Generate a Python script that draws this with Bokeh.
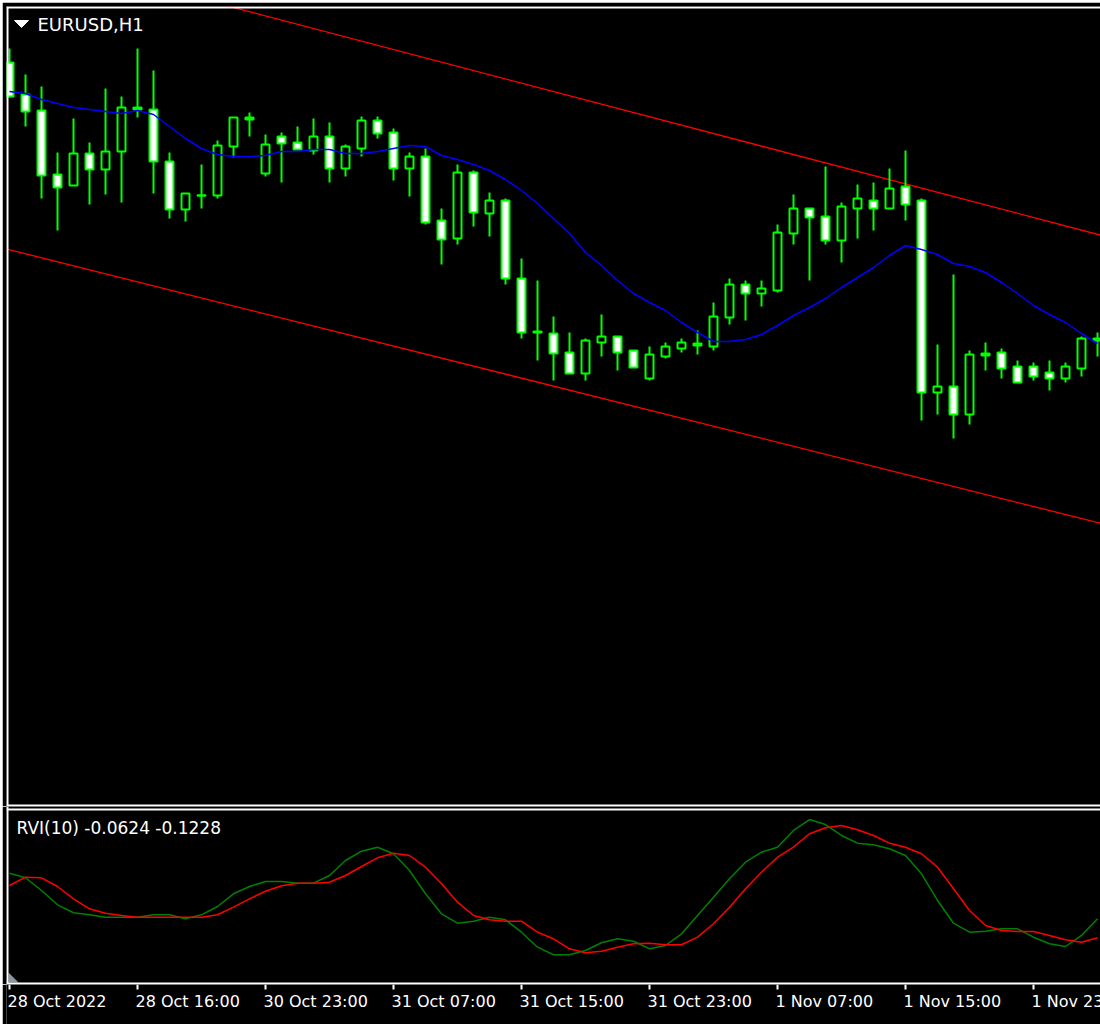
from bokeh.plotting import figure
from bokeh.layouts import column, row
from bokeh.models import Range1d, Span, Label, ColumnDataSource, Spacer
from bokeh.core.properties import value
from bokeh.embed import file_html
from bokeh.resources import INLINE

# ---------------- data ----------------
symbol_text = "EURUSD,H1"
rvi_text = "RVI(10) -0.0624 -0.1228"
tick_bars = [0, 8, 16, 24, 32, 40, 48, 56, 64]
tick_texts = ["28 Oct 2022", "28 Oct 16:00", "30 Oct 23:00", "31 Oct 07:00", "31 Oct 15:00",
              "31 Oct 23:00", "1 Nov 07:00", "1 Nov 15:00", "1 Nov 23:00"]

opens = [1.00152, 1.00024, 0.99960, 0.99704, 0.99660, 0.99788, 0.99724, 0.99796, 0.99964, 0.99964,
         0.99756, 0.99564, 0.99620, 0.99620, 0.99816, 0.99924, 0.99708, 0.99856, 0.99832, 0.99800,
         0.99856, 0.99728, 0.99808, 0.99920, 0.99872, 0.99728, 0.99776, 0.99520, 0.99448, 0.99712,
         0.99548, 0.99600, 0.99288, 0.99072, 0.99068, 0.98992, 0.98908, 0.99032, 0.99056, 0.99000,
         0.98888, 0.98976, 0.99008, 0.99020, 0.99016, 0.99132, 0.99264, 0.99228, 0.99240, 0.99468,
         0.99568, 0.99536, 0.99440, 0.99568, 0.99600, 0.99568, 0.99656, 0.99600, 0.98832, 0.98856,
         0.98744, 0.98980, 0.98992, 0.98936, 0.98936, 0.98912, 0.98888, 0.98928, 0.99040]
highs = [1.00208, 1.00104, 1.00056, 0.99792, 0.99928, 0.99832, 1.00048, 1.00016, 1.00208, 1.00120,
         0.99792, 0.99628, 0.99744, 0.99840, 0.99932, 0.99952, 0.99864, 0.99872, 0.99896, 0.99928,
         0.99912, 0.99824, 0.99936, 0.99936, 0.99888, 0.99792, 0.99808, 0.99568, 0.99744, 0.99720,
         0.99632, 0.99608, 0.99368, 0.99280, 0.99136, 0.99072, 0.99048, 0.99144, 0.99056, 0.99000,
         0.99016, 0.99032, 0.99048, 0.99080, 0.99192, 0.99288, 0.99280, 0.99280, 0.99504, 0.99624,
         0.99568, 0.99736, 0.99592, 0.99664, 0.99672, 0.99728, 0.99800, 0.99608, 0.99024, 0.99304,
         0.99000, 0.99032, 0.99008, 0.98960, 0.98952, 0.98960, 0.98952, 0.99056, 0.99072]
lows = [1.00012, 0.99896, 0.99608, 0.99480, 0.99660, 0.99584, 0.99624, 0.99592, 0.99932, 0.99628,
        0.99528, 0.99516, 0.99568, 0.99608, 0.99772, 0.99856, 0.99696, 0.99672, 0.99804, 0.99784,
        0.99672, 0.99696, 0.99776, 0.99848, 0.99680, 0.99616, 0.99504, 0.99344, 0.99424, 0.99496,
        0.99456, 0.99264, 0.99048, 0.98960, 0.98880, 0.98908, 0.98880, 0.98976, 0.98920, 0.98932,
        0.98880, 0.98968, 0.98992, 0.98984, 0.99000, 0.99104, 0.99120, 0.99176, 0.99232, 0.99424,
        0.99280, 0.99424, 0.99352, 0.99448, 0.99480, 0.99568, 0.99520, 0.98720, 0.98744, 0.98648,
        0.98704, 0.98920, 0.98888, 0.98872, 0.98880, 0.98840, 0.98872, 0.98896, 0.98976]
closes = [1.00016, 0.99956, 0.99700, 0.99652, 0.99788, 0.99724, 0.99796, 0.99972, 0.99972, 0.99756,
          0.99564, 0.99628, 0.99620, 0.99820, 0.99932, 0.99932, 0.99824, 0.99828, 0.99804, 0.99856,
          0.99728, 0.99816, 0.99920, 0.99868, 0.99728, 0.99776, 0.99512, 0.99444, 0.99712, 0.99552,
          0.99600, 0.99288, 0.99072, 0.99076, 0.98988, 0.98908, 0.99040, 0.99056, 0.98992, 0.98932,
          0.98984, 0.99016, 0.99032, 0.99028, 0.99136, 0.99264, 0.99228, 0.99248, 0.99472, 0.99568,
          0.99532, 0.99440, 0.99576, 0.99608, 0.99568, 0.99648, 0.99584, 0.98832, 0.98856, 0.98744,
          0.98984, 0.98988, 0.98928, 0.98872, 0.98896, 0.98888, 0.98936, 0.99048, 0.99048]
ma_values = [1.00036, 1.00028, 1.00004, 0.99988, 0.99972, 0.99964, 0.99956, 0.99948, 0.99960, 0.99944,
             0.99896, 0.99848, 0.99808, 0.99784, 0.99776, 0.99776, 0.99780, 0.99796, 0.99796, 0.99804,
             0.99804, 0.99788, 0.99788, 0.99796, 0.99808, 0.99820, 0.99816, 0.99780, 0.99764, 0.99744,
             0.99720, 0.99684, 0.99640, 0.99588, 0.99528, 0.99468, 0.99392, 0.99340, 0.99280, 0.99228,
             0.99192, 0.99160, 0.99112, 0.99072, 0.99036, 0.99036, 0.99044, 0.99064, 0.99100, 0.99140,
             0.99172, 0.99208, 0.99252, 0.99292, 0.99332, 0.99380, 0.99420, 0.99404, 0.99384, 0.99348,
             0.99336, 0.99312, 0.99272, 0.99228, 0.99180, 0.99144, 0.99112, 0.99068, 0.99028]
rvi_main = [0.0827, 0.0681, 0.0277, -0.0178, -0.0432, -0.0496, -0.0572, -0.0572, -0.0572, -0.0496,
            -0.0496, -0.0623, -0.0496, -0.0232, 0.0172, 0.0404, 0.0563, 0.0563, 0.0509, 0.0509,
            0.0754, 0.1231, 0.1526, 0.1654, 0.1444, 0.0913, 0.0172, -0.0464, -0.0763, -0.0700,
            -0.0572, -0.0655, -0.1049, -0.1526, -0.1768, -0.1768, -0.1631, -0.1386, -0.1259, -0.1336,
            -0.1577, -0.1472, -0.1100, -0.0518, 0.0064, 0.0649, 0.1177, 0.1495, 0.1654, 0.2185,
            0.2534, 0.2375, 0.2026, 0.1781, 0.1730, 0.1603, 0.1390, 0.0808, -0.0041, -0.0763,
            -0.1049, -0.1018, -0.0941, -0.0941, -0.1208, -0.1418, -0.1504, -0.1154, -0.0624]
rvi_signal = [0.0436, 0.0700, 0.0681, 0.0404, 0.0013, -0.0305, -0.0445, -0.0518, -0.0572, -0.0572,
              -0.0572, -0.0572, -0.0572, -0.0496, -0.0254, 0.0013, 0.0254, 0.0426, 0.0509, 0.0509,
              0.0541, 0.0754, 0.1040, 0.1317, 0.1463, 0.1390, 0.1018, 0.0490, -0.0095, -0.0518,
              -0.0655, -0.0700, -0.0700, -0.1049, -0.1259, -0.1577, -0.1704, -0.1654, -0.1526, -0.1418,
              -0.1399, -0.1450, -0.1450, -0.1208, -0.0782, -0.0254, 0.0331, 0.0859, 0.1336, 0.1654,
              0.2080, 0.2271, 0.2344, 0.2207, 0.2026, 0.1781, 0.1654, 0.1444, 0.1018, 0.0331,
              -0.0359, -0.0836, -0.0995, -0.1027, -0.1027, -0.1154, -0.1291, -0.1367, -0.1228]
chan_bars = [-1, 69]
chan_upper = [1.00624, 0.99448]
chan_lower = [0.99419, 0.98296]

# ---------------- layout constants (page pixel helpers) ----------------
FW = 1098                          # figure width (page x 2..1100)
LIME = "#00FF00"
FONT = "DejaVu Sans"

def bx(px):             # page x -> bar units (bar b sits at page x 9 + 16 b)
    return (px - 9) / 16.0

def py_main(py):        # page y -> price
    return 1.00400 - py * 0.00004

def py_rvi(py):         # page y -> rvi value
    return (898.7 - py) * 0.00318

TXT_SHIFT = 6           # label baseline compensation (px)

def base_fig(h, xr, yr):
    f = figure(width=FW, height=h, x_range=xr, y_range=yr,
               output_backend="svg", toolbar_location=None,
               x_axis_location=None, y_axis_location=None,
               background_fill_color="black", border_fill_color="black",
               outline_line_color=None, min_border=0)
    f.min_border_left = 4
    f.xgrid.visible = False
    f.ygrid.visible = False
    return f

bars = list(range(len(opens)))
tops, bots, fills = [], [], []
for o, c in zip(opens, closes):
    t, b = max(o, c), min(o, c)
    if t - b < 0.00002:
        t, b = t + 0.00001, b - 0.00001
    tops.append(t)
    bots.append(b)
    fills.append("white" if c < o else "black")
src = ColumnDataSource(dict(x=bars, h=highs, l=lows, top=tops, bot=bots, fill=fills))

# ---------------- main price panel (page y 2..806, frame 6..806) ----------------
p = base_fig(804, Range1d(bx(6), bx(1100)), Range1d(py_main(806), py_main(6)))
p.min_border_top = 4

p.line(chan_bars, chan_upper, line_color="#FF0000", line_width=1.3)
p.line(chan_bars, chan_lower, line_color="#FF0000", line_width=1.3)
p.segment(x0="x", y0="h", x1="x", y1="l", source=src, line_color=LIME, line_width=2)
p.vbar(x="x", width=0.5, top="top", bottom="bot", source=src, fill_color="fill",
       line_color=LIME, line_width=2)
p.line(bars, ma_values, line_color="#0000FF", line_width=1.5)

p.add_layout(Span(location=bx(7), dimension="height", line_color="white", line_width=2))
p.add_layout(Span(location=py_main(7), dimension="width", line_color="white", line_width=2))
p.add_layout(Span(location=py_main(805), dimension="width", line_color="white", line_width=2))

p.patch([bx(14), bx(28), bx(21)], [py_main(20), py_main(20), py_main(27)],
        fill_color="white", line_color="white", line_width=1)
p.add_layout(Label(x=bx(37), y=py_main(30 - TXT_SHIFT), text=symbol_text, text_color="white",
                   text_font=FONT, text_font_size="18px", text_baseline="alphabetic"))

# ---------------- RVI panel (page y 806..984) ----------------
q = base_fig(178, p.x_range, Range1d(py_rvi(984), py_rvi(806)))

q.line(bars, rvi_main, line_color="#008000", line_width=1.5)
q.line(bars, rvi_signal, line_color="#FF0000", line_width=1.5)

q.add_layout(Span(location=bx(7), dimension="height", line_color="white", line_width=2))
q.add_layout(Span(location=py_rvi(809), dimension="width", line_color="white", line_width=2))
q.add_layout(Span(location=py_rvi(983), dimension="width", line_color="white", line_width=2))
q.patch([bx(8), bx(8), bx(18)], [py_rvi(972), py_rvi(982), py_rvi(982)],
        fill_color="#8a96a4", line_color=None)
q.add_layout(Label(x=bx(16), y=py_rvi(833 - TXT_SHIFT), text=rvi_text, text_color="white",
                   text_font=FONT, text_font_size="17px", text_baseline="alphabetic"))

# ---------------- time scale strip (page y 984..1024, y in page pixels) ----------------
r = base_fig(40, p.x_range, Range1d(1024, 984))
r.segment(x0=tick_bars, y0=[984] * len(tick_bars), x1=tick_bars, y1=[989] * len(tick_bars),
          line_color="white", line_width=2)
r.text(x=[b - 2 / 16.0 for b in tick_bars], y=[1007 - TXT_SHIFT] * len(tick_bars), text=tick_texts,
       text_color="white", text_font=value(FONT), text_font_size="16px",
       text_align="left", text_baseline="alphabetic")

layout = row(Spacer(width=2, height=1024),
             column(Spacer(width=FW, height=2), p, q, r, spacing=0), spacing=0)
html = file_html(layout, INLINE)
html = html.replace("<body>", '<body style="background-color:#7f7f7f;">', 1)
open("out.html", "w").write(html)
